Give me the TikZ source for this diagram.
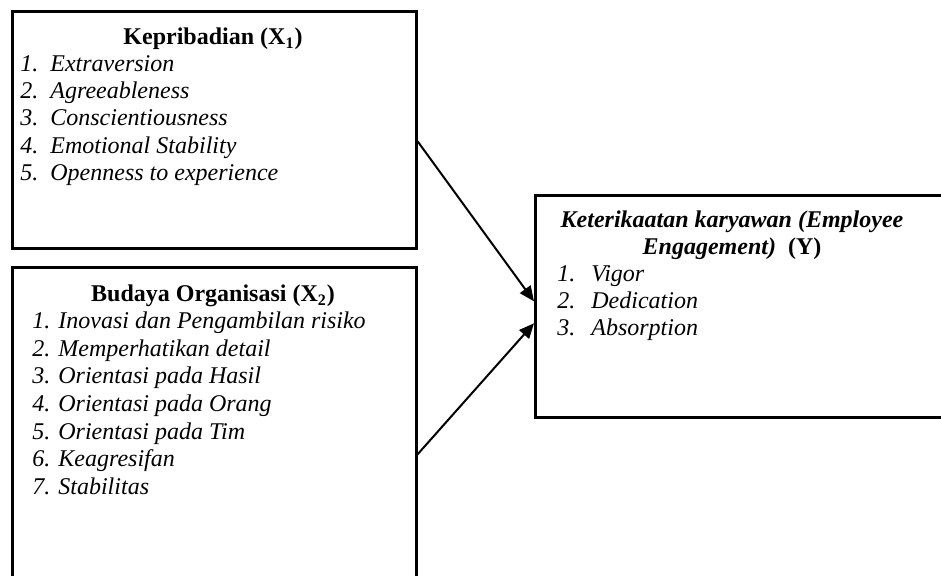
\documentclass[tikz,border=0pt]{standalone}
\usepackage{fontspec}
\setmainfont{Liberation Serif}[
  BoldFont={Liberation Serif Bold},
  ItalicFont={Liberation Serif Italic},
  BoldItalicFont={Liberation Serif Bold Italic}]
\usetikzlibrary{arrows.meta}

\def\sz{\fontsize{12}{13.6}\selectfont}
\newcommand{\nr}[2]{\makebox[#1][l]{#2}}

\begin{document}
\begin{tikzpicture}[x=0.5pt, y=-0.5pt,
  box/.style={draw, line width=1.3pt, inner sep=0pt, anchor=north west},
  title/.style={font=\sz\bfseries, inner sep=0pt},
  items/.style={font=\sz\itshape, align=left, anchor=north west, inner sep=0pt},
  link/.style={line width=1pt, -{Triangle[length=7.5pt,width=6.5pt]}}]
\useasboundingbox (0,0) rectangle (941,576);
\node[box, minimum width=202pt, minimum height=118.5pt] (kep) at (11,10) {};
\node[box, minimum width=202pt, minimum height=159.5pt] (bud) at (11,266) {};
\node[box, minimum width=205.5pt, minimum height=111pt] (eng) at (534,194) {};
\node[title, anchor=base] (kepT) at (213,45) {Kepribadian (X\textsubscript{1})};
\node[items] (kepL) at (20,52) {\strut\nr{15pt}{1.}Extraversion\\
  \nr{15pt}{2.}Agreeableness\\
  \nr{15pt}{3.}Conscientiousness\\
  \nr{15pt}{4.}Emotional Stability\\
  \nr{15pt}{5.}Openness to experience};
\node[title, anchor=base] (budT) at (213,302) {Budaya Organisasi (X\textsubscript{2})};
\node[items, font=\fontsize{12}{13.85}\selectfont\itshape] (budL) at (32,308.6) {\strut 1. Inovasi dan Pengambilan risiko\\
  2. Memperhatikan detail\\
  3. Orientasi pada Hasil\\
  4. Orientasi pada Orang\\
  5. Orientasi pada Tim\\
  6. Keagresifan\\
  7. Stabilitas};
\node[title, align=center, anchor=north] (engT) at (732,208) {\strut\textit{Keterikaatan karyawan (Employee}\\
  \textit{Engagement)}~~(Y)};
\node[items] (engL) at (557,262) {\strut\nr{17pt}{1.}Vigor\\
  \nr{17pt}{2.}Dedication\\
  \nr{17pt}{3.}Absorption};
\draw[link] ([yshift=-5.75pt]kep.east) -- ([yshift=2.5pt]eng.west);
\draw[link] ([yshift=-13.75pt]bud.east) -- ([yshift=-8.5pt]eng.west);
\end{tikzpicture}
\end{document}
